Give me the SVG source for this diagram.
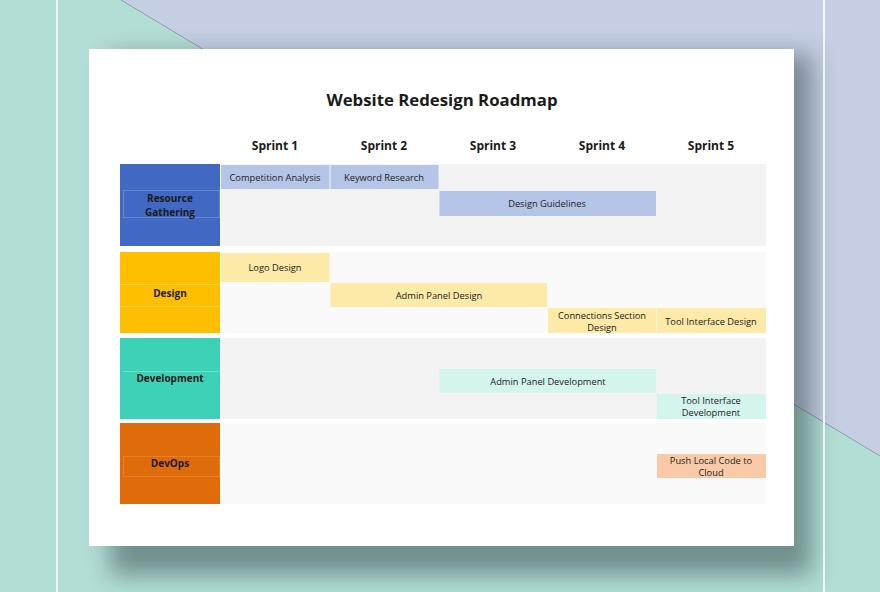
<svg xmlns="http://www.w3.org/2000/svg" width="880" height="592" viewBox="0 0 880 592">
<defs>
<filter id="blur" x="-20%" y="-20%" width="140%" height="140%">
<feGaussianBlur stdDeviation="12"/>
</filter>
<style>
.t{font-family:"Open Sans","Liberation Sans",sans-serif;fill:#1a1a1a;text-anchor:middle}
.h{font-size:12px;font-weight:700}
.task{font-size:9.3px;fill:#222}
.lab{font-size:10px;font-weight:700}
.inner{fill:none;stroke-opacity:0.35;stroke-width:1}
</style>
</defs>
<rect x="0" y="0" width="880" height="592" fill="#b3ded6"/>
<polygon points="121,0 880,0 880,456" fill="#c5cee3"/>
<line x1="121" y1="0" x2="880" y2="456" stroke="#7f8f96" stroke-width="0.8"/>
<rect x="110" y="55" width="702" height="520" fill="#1e3236" opacity="0.45" filter="url(#blur)"/>
<line x1="57" y1="0" x2="57" y2="592" stroke="#eef6f5" stroke-width="2"/>
<line x1="824" y1="0" x2="824" y2="592" stroke="#eef4f7" stroke-width="2"/>
<rect x="89" y="49" width="705" height="497" fill="#ffffff"/>
<text class="t" x="442" y="106" font-size="16.8" font-weight="700">Website Redesign Roadmap</text>
<g id="headers">
<text class="t h" x="275" y="150">Sprint 1</text>
<text class="t h" x="384" y="150">Sprint 2</text>
<text class="t h" x="493" y="150">Sprint 3</text>
<text class="t h" x="602" y="150">Sprint 4</text>
<text class="t h" x="711" y="150">Sprint 5</text>
</g>
<g id="row-resource">
<rect x="221" y="164" width="545" height="82" fill="#f3f3f3"/>
<rect x="120" y="164" width="100" height="82" fill="#4169c3"/>
<rect x="123.5" y="190.5" width="96" height="27" class="inner" stroke="#a9bce6"/>
<text class="t lab" x="170" y="202" fill="#16264d">Resource</text>
<text class="t lab" x="170" y="216" fill="#16264d">Gathering</text>
<g id="competition-analysis"><rect x="221" y="165" width="108.5" height="24" fill="#b4c5e7"/><text class="t task" x="275" y="180.5">Competition Analysis</text></g>
<g id="keyword-research"><rect x="330.5" y="165" width="108" height="24" fill="#b4c5e7"/><text class="t task" x="384" y="180.5">Keyword Research</text></g>
<g id="design-guidelines"><rect x="439.5" y="191" width="216.5" height="25" fill="#b4c5e7"/><text class="t task" x="547" y="207">Design Guidelines</text></g>
</g>
<g id="row-design">
<rect x="221" y="252" width="545" height="81" fill="#f9f9f9"/>
<rect x="120" y="252" width="100" height="81" fill="#fdbf00"/>
<line x1="120" y1="284.5" x2="220" y2="284.5" stroke="#fde08a" stroke-opacity="0.5"/>
<line x1="120" y1="306.5" x2="220" y2="306.5" stroke="#fde08a" stroke-opacity="0.5"/>
<text class="t lab" x="170" y="297" fill="#2e1e00">Design</text>
<g id="logo-design"><rect x="221" y="253" width="108.5" height="29" fill="#fde9a8"/><text class="t task" x="275" y="271">Logo Design</text></g>
<g id="admin-panel-design"><rect x="330.5" y="283" width="216.5" height="24" fill="#fde9a8"/><text class="t task" x="439" y="299">Admin Panel Design</text></g>
<g id="connections-section-design"><rect x="548" y="308" width="108.5" height="25" fill="#fde9a8"/><text class="t task" x="602" y="318.5">Connections Section</text><text class="t task" x="602" y="330.5">Design</text></g>
<g id="tool-interface-design"><rect x="657" y="308" width="109" height="25" fill="#fde9a8"/><text class="t task" x="711" y="324.5">Tool Interface Design</text></g>
</g>
<g id="row-development">
<rect x="221" y="338" width="545" height="81" fill="#f3f3f3"/>
<rect x="120" y="338" width="100" height="81" fill="#3dd2b8"/>
<line x1="123" y1="371.5" x2="220" y2="371.5" stroke="#9eeadd" stroke-opacity="0.5"/>
<text class="t lab" x="170" y="382" fill="#0c3029">Development</text>
<g id="admin-panel-development"><rect x="439.5" y="369" width="216.5" height="24" fill="#d4f5ee"/><text class="t task" x="548" y="384.5">Admin Panel Development</text></g>
<g id="tool-interface-development"><rect x="657" y="394" width="109" height="25" fill="#d4f5ee"/><text class="t task" x="711" y="404">Tool Interface</text><text class="t task" x="711" y="416">Development</text></g>
</g>
<g id="row-devops">
<rect x="221" y="423" width="545" height="81" fill="#f9f9f9"/>
<rect x="120" y="423" width="100" height="81" fill="#e06b0a"/>
<rect x="123.5" y="456.5" width="96" height="20" class="inner" stroke="#f5a868"/>
<text class="t lab" x="170" y="467" fill="#3a0800">DevOps</text>
<g id="push-local-code"><rect x="657" y="454" width="109" height="24" fill="#f9caa7"/><text class="t task" x="711" y="464">Push Local Code to</text><text class="t task" x="711" y="476">Cloud</text></g>
</g>
<g id="connectors"></g>
</svg>
